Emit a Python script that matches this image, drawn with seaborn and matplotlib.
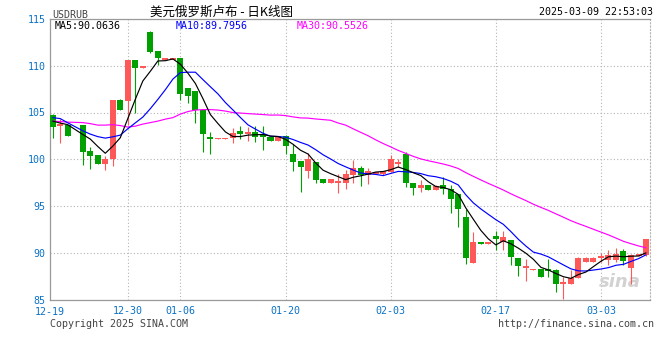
import numpy as np
import pandas as pd
import matplotlib
matplotlib.use("Agg")
import matplotlib.pyplot as plt
import seaborn as sns

# ---------------- data ----------------
dates = """2024-12-20 2024-12-21 2024-12-22 2024-12-24 2024-12-25 2024-12-26 2024-12-27 2024-12-28 2024-12-29 2024-12-30
2024-12-31 2025-01-01 2025-01-02 2025-01-03 2025-01-04 2025-01-05 2025-01-06 2025-01-07 2025-01-08 2025-01-09
2025-01-10 2025-01-11 2025-01-12 2025-01-13 2025-01-14 2025-01-15 2025-01-16 2025-01-17 2025-01-18 2025-01-19
2025-01-20 2025-01-21 2025-01-22 2025-01-23 2025-01-24 2025-01-25 2025-01-26 2025-01-27 2025-01-28 2025-01-29
2025-01-30 2025-01-31 2025-02-01 2025-02-02 2025-02-03 2025-02-04 2025-02-05 2025-02-06 2025-02-07 2025-02-08
2025-02-09 2025-02-10 2025-02-11 2025-02-12 2025-02-13 2025-02-14 2025-02-15 2025-02-16 2025-02-17 2025-02-18
2025-02-19 2025-02-20 2025-02-21 2025-02-22 2025-02-23 2025-02-24 2025-02-25 2025-02-26 2025-02-27 2025-02-28
2025-03-01 2025-03-02 2025-03-03 2025-03-04 2025-03-05 2025-03-06 2025-03-07 2025-03-08 2025-03-09""".split()

opens = [104.72, 103.60, 103.65, 103.65, 100.85, 100.44, 99.51, 99.98, 106.33, 106.22,
         110.61, 109.80, 113.64, 111.57, 110.74, 110.74, 110.80, 107.64, 107.29, 105.26,
         102.37, 102.21, 102.21, 102.23, 103.00, 102.72, 102.87, 102.69, 102.40, 101.97,
         102.47, 100.55, 99.80, 98.76, 99.72, 97.87, 97.47, 97.55, 97.47, 98.30,
         99.02, 98.30, 98.40, 98.37, 98.65, 99.55, 100.55, 97.47, 96.94, 97.23,
         96.69, 97.23, 96.77, 96.26, 93.83, 88.91, 91.16, 90.91, 91.77, 91.16,
         91.34, 89.44, 88.45, 88.20, 88.23, 88.23, 88.20, 86.70, 86.63, 87.34,
         89.02, 89.02, 89.49, 89.27, 89.27, 90.19, 88.35, 89.70, 89.73]
highs = [104.85, 104.30, 103.70, 103.70, 101.33, 100.44, 100.30, 106.33, 106.40, 110.61,
         110.65, 109.86, 113.70, 111.60, 110.80, 110.80, 110.85, 107.66, 107.30, 105.28,
         102.90, 102.25, 102.25, 103.30, 103.60, 103.50, 103.54, 103.54, 102.42, 102.50,
         102.60, 101.58, 99.85, 100.69, 99.75, 97.90, 97.90, 98.37, 98.83, 99.90,
         99.26, 99.08, 98.67, 98.75, 100.44, 99.98, 100.76, 97.50, 97.76, 97.25,
         97.21, 98.12, 97.23, 96.28, 94.73, 92.23, 91.18, 91.18, 92.30, 92.30,
         91.36, 89.46, 89.38, 88.25, 88.25, 89.30, 88.22, 87.41, 88.20, 89.51,
         89.51, 89.51, 89.98, 90.34, 90.50, 90.45, 89.85, 89.80, 91.44]
lows = [102.28, 101.70, 102.45, 99.36, 98.98, 99.44, 98.87, 99.23, 105.26, 103.65,
        104.97, 109.78, 111.40, 110.07, 110.70, 110.70, 106.33, 105.97, 103.90, 100.80,
        100.60, 102.20, 102.20, 101.70, 102.20, 101.90, 101.86, 100.97, 101.95, 101.95,
        100.51, 98.76, 96.51, 98.00, 97.47, 97.45, 97.45, 96.40, 96.87, 97.47,
        97.12, 97.33, 98.38, 98.35, 98.63, 99.19, 97.04, 96.16, 96.51, 96.67,
        96.67, 96.26, 94.20, 92.76, 88.77, 88.89, 90.89, 90.89, 90.34, 90.27,
        88.66, 87.48, 86.98, 88.18, 87.39, 87.41, 85.80, 85.10, 86.61, 87.32,
        89.00, 89.00, 89.02, 88.66, 89.00, 88.66, 86.70, 89.68, 89.70]
closes = [103.47, 103.68, 102.50, 100.80, 100.36, 99.51, 100.01, 106.33, 105.29, 110.61,
          109.79, 109.85, 111.50, 110.79, 110.76, 110.76, 106.97, 106.76, 105.26, 102.72,
          102.15, 102.23, 102.23, 102.83, 102.72, 102.90, 102.40, 102.40, 101.97, 102.47,
          101.43, 99.72, 99.19, 100.01, 97.76, 97.47, 97.87, 97.58, 98.40, 99.02,
          98.30, 98.76, 98.65, 98.73, 99.98, 99.72, 97.41, 96.94, 97.23, 96.69,
          97.19, 96.87, 95.70, 94.73, 89.49, 91.16, 90.91, 91.16, 91.48, 91.69,
          89.55, 88.55, 88.48, 88.23, 87.41, 88.13, 86.63, 86.81, 87.30, 89.49,
          89.49, 89.49, 89.66, 89.73, 89.84, 89.12, 89.80, 89.75, 91.44]

ma5 = [104.08, 103.87, 103.70, 102.65,
       102.16, 101.37, 100.64, 101.40, 102.30, 104.35, 106.41, 108.37, 109.41, 110.51,
       110.54, 110.73, 110.16, 109.21, 108.10, 106.49, 104.77, 103.82, 102.92, 102.43,
       102.43, 102.58, 102.62, 102.65, 102.48, 102.43, 102.13, 101.60, 100.96, 100.56,
       99.62, 98.83, 98.46, 98.14, 97.82, 98.07, 98.23, 98.41, 98.63, 98.69,
       98.88, 99.17, 98.90, 98.56, 98.26, 97.60, 97.09, 96.98, 96.74, 96.24,
       94.80, 93.59, 92.40, 91.49, 90.84, 91.28, 90.96, 90.49, 89.95, 89.30,
       88.44, 88.16, 87.78, 87.44, 87.26, 87.67, 87.94, 88.52, 89.09, 89.57,
       89.64, 89.57, 89.63, 89.65, 89.99]
ma10 = [104.45, 104.35, 103.90, 103.05, 102.69, 102.42, 102.26, 102.40, 102.58,
        103.26, 103.89, 104.51, 105.41, 106.40, 107.44, 108.57, 109.27, 109.31, 109.31,
        108.52, 107.75, 106.99, 106.06, 105.27, 104.46, 103.68, 103.22, 102.78, 102.46,
        102.43, 102.36, 102.11, 101.80, 101.52, 101.03, 100.48, 100.03, 99.55, 99.19,
        98.85, 98.53, 98.44, 98.38, 98.25, 98.48, 98.70, 98.66, 98.59, 98.47,
        98.24, 98.13, 97.94, 97.65, 97.25, 96.20, 95.34, 94.69, 94.11, 93.54,
        93.04, 92.27, 91.44, 90.72, 90.07, 89.86, 89.56, 89.13, 88.70, 88.28,
        88.06, 88.05, 88.15, 88.26, 88.41, 88.66, 88.76, 89.07, 89.37, 89.78]
ma30 = [104.08, 104.03, 103.97, 103.92, 103.81, 103.65, 103.65, 103.70, 103.60, 103.44,
        103.54, 103.76, 103.92, 104.08, 104.29, 104.45, 104.83, 105.10, 105.26, 105.31,
        105.31, 105.26, 105.15, 104.99, 104.94, 104.88, 104.83, 104.78, 104.72,
        104.73, 104.67, 104.53, 104.42, 104.40, 104.31, 104.24, 104.17, 103.88, 103.65,
        103.26, 102.88, 102.51, 102.08, 101.68, 101.32, 100.95, 100.63, 100.31, 100.04,
        99.84, 99.67, 99.49, 99.28, 99.01, 98.57, 98.17, 97.79, 97.42, 97.07,
        96.71, 96.31, 95.94, 95.58, 95.19, 94.85, 94.53, 94.16, 93.80, 93.43,
        93.11, 92.82, 92.51, 92.21, 91.91, 91.57, 91.22, 90.97, 90.73, 90.53]

tick_dates = ["2024-12-30", "2025-01-06", "2025-01-20", "2025-02-03", "2025-02-17", "2025-03-03"]
tick_labels = ["12-30", "01-06", "01-20", "02-03", "02-17", "03-03"]
first_label = "12-19"
y_ticks = [85, 90, 95, 100, 105, 110, 115]
legend_texts = ["MA5:90.0636", "MA10:89.7956", "MA30:90.5526"]

# ---------------- style ----------------
sns.set_theme(style="white")
plt.rcParams['font.family'] = ['DejaVu Sans Mono', 'Noto Sans CJK SC']

RED = '#ff5858'
GREEN = '#00a000'
BLUE_TXT = '#0b72c4'
GRID = '#b4b4b4'
FS = 7.2

W, H = 660, 360
fig = plt.figure(figsize=(W / 100, H / 100), dpi=100)
fig.patch.set_facecolor('white')
L, R, T, B = 50, 650, 19, 299.5
ax = fig.add_axes([L / W, 1 - B / H, (R - L) / W, (B - T) / H])
ax.set_facecolor('white')

origin = pd.Timestamp(dates[0])
x = (pd.to_datetime(dates) - origin).days.values.astype(float)
o, h, l, c = map(np.array, (opens, highs, lows, closes))
up = c >= o
cols = np.where(up, RED, GREEN)

# wicks
ax.vlines(x, l, h, colors=cols, lw=0.8, zorder=3)
# bodies
mid = (o + c) / 2
bh = np.abs(c - o)
small = bh < 0.2
bottom = np.where(small, mid - 0.1, np.minimum(o, c))
height = np.where(small, 0.2, bh)
ax.bar(x, height, bottom=bottom, width=0.8, color=cols, linewidth=0, zorder=4)

# moving averages
df = pd.DataFrame({"x": x, "MA5": ma5, "MA10": ma10, "MA30": ma30})
for name, col in (("MA30", "#ff00ff"), ("MA10", "#0000ff"), ("MA5", "#000000")):
    sns.lineplot(data=df, x="x", y=name, color=col, lw=0.85, ax=ax, zorder=5, legend=False)

# axes
ax.set_xlim(-0.36, 79.53)
ax.set_ylim(85, 115)
tx = (pd.to_datetime(tick_dates) - origin).days.values
ax.set_xticks(tx)
ax.set_xticklabels(tick_labels)
ax.set_yticks(y_ticks)
ax.set_yticklabels([str(v) for v in y_ticks])
ax.set_xlabel("")
ax.set_ylabel("")
ax.tick_params(axis='both', length=0, labelsize=FS, colors=BLUE_TXT)
ax.tick_params(axis='y', pad=3.2)
ax.tick_params(axis='x', pad=4.5)
ax.grid(True, color=GRID, linestyle=(0, (1, 2)), linewidth=0.8, zorder=0)
ax.set_axisbelow(True)
for side in ('left', 'bottom', 'top'):
    ax.spines[side].set_color('#9a9a9a')
    ax.spines[side].set_linewidth(0.9)
ax.spines['right'].set_color(GRID)
ax.spines['right'].set_linestyle((0, (1, 2)))
ax.spines['right'].set_linewidth(0.8)

ax.text(0, -0.028, first_label, transform=ax.transAxes, ha='center', va='top',
        fontsize=FS, color=BLUE_TXT)

# legend inside plot
ax.text(5 / (R - L), 1 - 7 / (B - T), legend_texts[0], transform=ax.transAxes,
        ha='left', va='center', fontsize=FS, color='black')
ax.text(126 / (R - L), 1 - 7 / (B - T), legend_texts[1], transform=ax.transAxes,
        ha='left', va='center', fontsize=FS, color='#0000ff')
ax.text(247 / (R - L), 1 - 7 / (B - T), legend_texts[2], transform=ax.transAxes,
        ha='left', va='center', fontsize=FS, color='#ff00ff')

# watermark
ax.text(0.985, 0.03, "sina", transform=ax.transAxes, ha='right', va='bottom',
        fontsize=13, fontweight='bold', fontstyle='italic', color='#d2d2d2',
        family=['DejaVu Sans'], zorder=1)

# header / footer texts
fig.text(52 / W, 1 - 15 / H, "USDRUB", ha='left', va='center', fontsize=FS, color='#444444')
fig.text(221 / W, 1 - 12 / H, "美元俄罗斯卢布 - 日K线图", ha='center', va='center', fontsize=9,
         color='black', family=['Noto Sans CJK SC', 'DejaVu Sans'])
fig.text(653 / W, 1 - 12 / H, "2025-03-09 22:53:03", ha='right', va='center', fontsize=FS, color='black')
fig.text(50 / W, 1 - 324 / H, "Copyright 2025 SINA.COM", ha='left', va='center', fontsize=FS, color='#444444')
fig.text(654 / W, 1 - 324 / H, "http://finance.sina.com.cn", ha='right', va='center', fontsize=FS, color='#444444')

fig.savefig("out.png", dpi=100, facecolor='white')
